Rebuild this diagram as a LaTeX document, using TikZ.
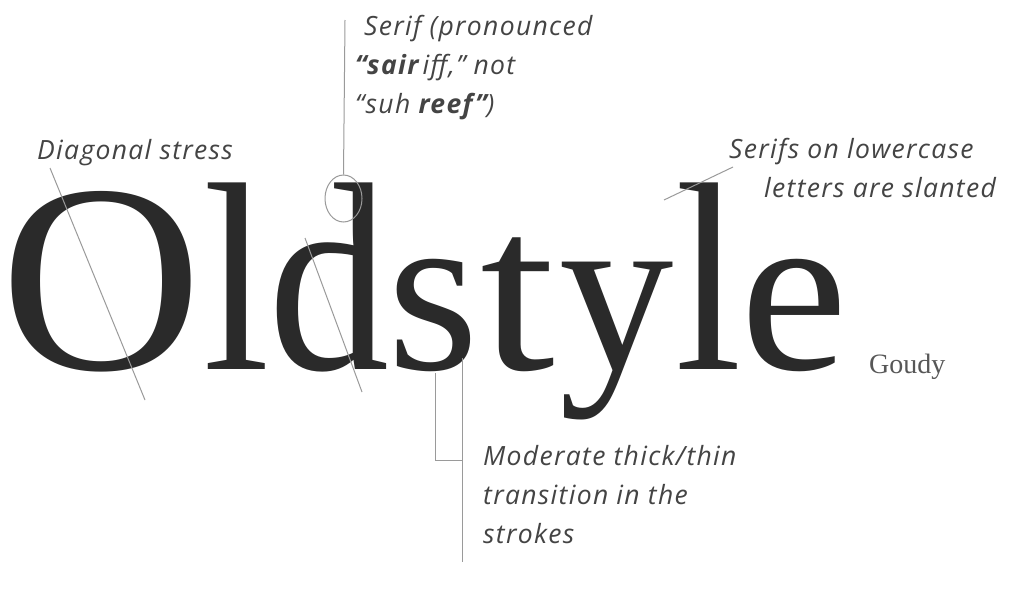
\documentclass[tikz,border=0pt]{standalone}
\usepackage{fontspec}
\setmainfont{Liberation Serif}
\newfontfamily\notefont[LetterSpace=5]{Open Sans}
\usetikzlibrary{shapes.geometric}
\definecolor{ink}{HTML}{2A2A2A}
\definecolor{notecol}{HTML}{444444}
\definecolor{linecol}{HTML}{9A9A9A}
\newcommand\notelines[1]{\begin{tabular}[t]{@{}l@{}}#1\end{tabular}}
\tikzset{
  note/.style={inner sep=0, anchor=base west, text=notecol, font=\notefont\itshape\fontsize{26.5}{39}\selectfont},
  guide/.style={draw=linecol, line width=1pt},
  letter/.style={anchor=base, inner sep=0, text=ink, font=\fontsize{269}{269}\selectfont},
}
\begin{document}
\begin{tikzpicture}[x=1pt,y=-1pt]
\useasboundingbox (0,0) rectangle (1030,592);
\fill[white] (0,0) rectangle (1030,592);
% big word, letter by letter
\node[letter, xscale=1.04] (cO) at (101.5,369) {O};
\node[letter, xscale=0.89] (cl) at (236.5,369) {l};
\node[letter, xscale=0.9] (cd) at (329.5,369) {d};
\node[letter, xscale=0.875, yscale=0.87] (cs) at (433.5,369) {s};
\node[letter, xscale=1.0, yscale=0.87] (ct) at (518,369) {t};
\node[letter, xscale=0.85, yscale=0.87] (cy) at (616.5,369) {y};
\node[letter, xscale=0.89] (cl2) at (708.5,369) {l};
\node[letter, xscale=0.9, yscale=0.87] (ce) at (794.5,369) {e};
\node[anchor=base west, inner sep=0, text=notecol!90,
      font=\fontsize{28}{28}\selectfont] (goudy) at (869,373) {Goudy};
% annotations
\node[note] (diag) at (37,159) {Diagonal stress};
\node[note] (serif) at (355,35)
  {\notelines{\hspace{9pt}Serif (pronounced\\
   \textbf{“sair}\hspace{4pt}iff,” not\\
   “suh \textbf{reef”})}};
\node[note] (slant) at (729,158)
  {\notelines{Serifs on lowercase\\\hspace{35pt}letters are slanted}};
\node[note] (thick) at (483,465)
  {\notelines{Moderate thick/thin\\transition in the\\strokes}};
% guide lines
\coordinate (o1) at (50,168);
\coordinate (o2) at (145,400);
\draw[guide] (o1) -- (o2);
\coordinate (d1) at (305,238);
\coordinate (d2) at (362,392);
\draw[guide] (d1) -- (d2);
\node[guide, ellipse, minimum width=37pt, minimum height=47pt, inner sep=0] (ring) at (343.5,198.5) {};
\coordinate (stop) at (345,20);
\draw[guide] (ring.north) -- (stop);
\coordinate (l1) at (664,200);
\coordinate (l2) at (733,167);
\draw[guide] (l1) -- (l2);
\coordinate (b1) at (435,373);
\coordinate (b2) at (435,460);
\coordinate (b3) at (462,460);
\coordinate (b4) at (462,358);
\coordinate (b5) at (462,562);
\draw[guide] (b1) -- (b2) -- (b3);
\draw[guide] (b4) -- (b5);
\end{tikzpicture}
\end{document}
